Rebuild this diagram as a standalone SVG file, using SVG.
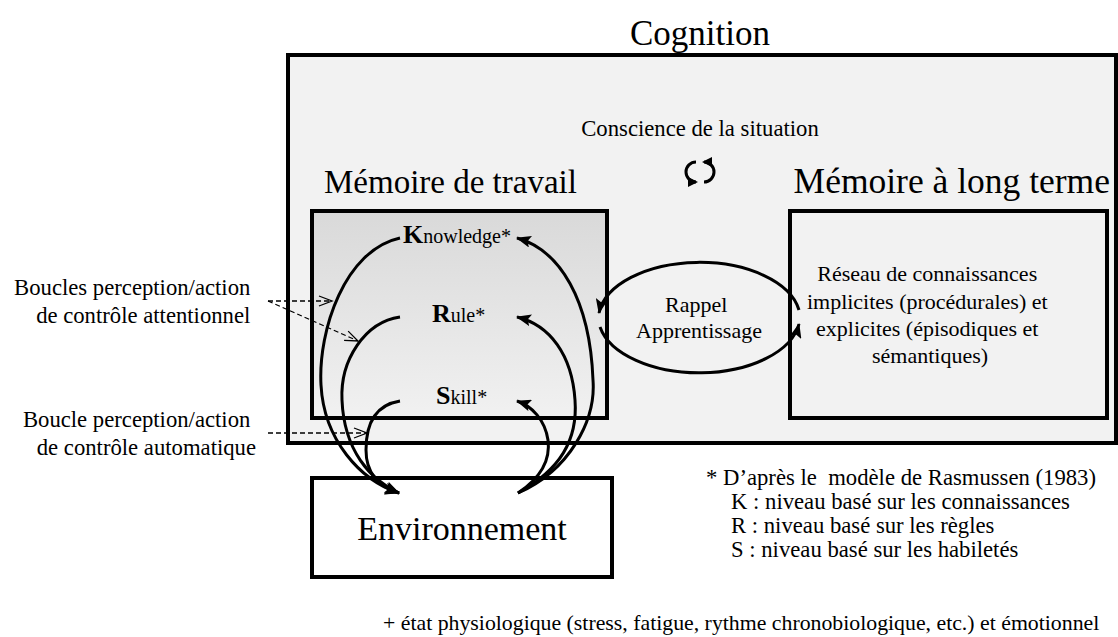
<svg xmlns="http://www.w3.org/2000/svg" width="1118" height="637" viewBox="0 0 1118 637">
<style>
text{font-family:"Liberation Serif","Times New Roman",serif;fill:#000}
.t34{font-size:34px}
.t22{font-size:22px}
.t23{font-size:22.7px}
.lvl{font-size:20px}
.big{font-size:26px;font-weight:bold}
.box{stroke:#000;stroke-width:4}
.cur{fill:none;stroke:#000;stroke-width:3}
.dash{fill:none;stroke:#000;stroke-width:1.3;stroke-dasharray:5 3}
</style>
<defs>
<linearGradient id="wmg" x1="0" y1="0" x2="0" y2="1">
<stop offset="0" stop-color="#d9d9d9"/>
<stop offset="1" stop-color="#f1f1f1"/>
</linearGradient>
<marker id="ah" markerWidth="16" markerHeight="12" refX="14" refY="6" orient="auto" markerUnits="userSpaceOnUse">
<path d="M0,0 L15,6 L0,12 L3,6 z" fill="#000"/>
</marker>
<marker id="ahs" markerWidth="10" markerHeight="10" refX="8" refY="5" orient="auto" markerUnits="userSpaceOnUse">
<path d="M0,0 L10,5 L0,10 z" fill="#000"/>
</marker>
<marker id="oh" markerWidth="16" markerHeight="12" refX="14" refY="6" orient="auto" markerUnits="userSpaceOnUse">
<path d="M1,1 L14,6 L1,11" fill="none" stroke="#000" stroke-width="1.3"/>
</marker>
</defs>
<rect width="1118" height="637" fill="#fff"/>

<g id="cognition">
<rect class="box" x="288" y="55" width="828" height="388" fill="#f2f2f2"/>
<text x="700" y="45" text-anchor="middle" style="font-size:35px">Cognition</text>
</g>

<g id="conscience">
<text class="t23" x="700" y="136" text-anchor="middle">Conscience de la situation</text>
<path d="M696 162 A10 10 0 0 0 696 182" fill="none" stroke="#000" stroke-width="3" marker-end="url(#ahs)"/>
<path d="M704 182 A10 10 0 0 0 704 162" fill="none" stroke="#000" stroke-width="3" marker-end="url(#ahs)"/>
</g>

<g id="memoire-travail">
<text x="324" y="193" style="font-size:33px">Mémoire de travail</text>
<rect class="box" x="312" y="211" width="295" height="207" fill="url(#wmg)"/>
<text x="403" y="243"><tspan class="big">K</tspan><tspan class="lvl">nowledge*</tspan></text>
<text x="432" y="322"><tspan class="big">R</tspan><tspan class="lvl">ule*</tspan></text>
<text x="436" y="404"><tspan class="big">S</tspan><tspan class="lvl">kill*</tspan></text>
</g>

<g id="memoire-long-terme">
<text x="1110" y="193" text-anchor="end" style="font-size:35.5px">Mémoire à long terme</text>
<rect class="box" x="790" y="211" width="317" height="207" fill="#f2f2f2"/>
<text class="t22" text-anchor="middle">
<tspan x="930" y="281">Réseau de connaissances</tspan>
<tspan x="930" y="309">implicites (procédurales) et</tspan>
<tspan x="930" y="336">explicites (épisodiques et</tspan>
<tspan x="930" y="363">sémantiques)</tspan>
</text>
</g>

<g id="environnement">
<rect class="box" x="312" y="478" width="300" height="99" fill="#fff"/>
<text class="t34" x="462" y="540" text-anchor="middle">Environnement</text>
</g>

<g id="rappel">
<text class="t22" text-anchor="middle">
<tspan x="699" y="312">Rappel</tspan>
<tspan x="699" y="338">Apprentissage</tspan>
</text>
</g>

<g id="labels">
<text class="t23" text-anchor="end">
<tspan x="256" y="295">Boucles perception/action</tspan>
<tspan x="256" y="323">de contrôle attentionnel</tspan>
<tspan x="256" y="427">Boucle perception/action</tspan>
<tspan x="256" y="455">de contrôle automatique</tspan>
</text>
</g>

<g id="footnote">
<text class="t23" xml:space="preserve"><tspan x="706" y="485">* D’après le  modèle de Rasmussen (1983)</tspan><tspan x="731" y="509">K : niveau basé sur les connaissances</tspan><tspan x="731" y="533">R : niveau basé sur les règles</tspan><tspan x="731" y="557">S : niveau basé sur les habiletés</tspan></text>
<text x="383" y="630" style="font-size:21.8px">+ état physiologique (stress, fatigue, rythme chronobiologique, etc.) et émotionnel</text>
</g>

<g id="connectors">
<path class="cur" d="M400 238 C345 250 318 330 321 385 C324 440 360 480 399 493" marker-end="url(#ah)"/>
<path class="cur" d="M518 493 C570 470 596 420 593 380 C590 300 560 250 517 238" marker-end="url(#ah)"/>
<path class="cur" d="M400 317 C365 322 340 360 342 400 C344 450 370 480 399 493" marker-end="url(#ah)"/>
<path class="cur" d="M518 493 C560 470 578 440 575 400 C572 355 550 325 517 317" marker-end="url(#ah)"/>
<path class="cur" d="M400 401 C375 405 366 425 366 450 C366 475 380 487 399 493" marker-end="url(#ah)"/>
<path class="cur" d="M518 493 C545 475 550 455 548 440 C545 420 532 406 517 401" marker-end="url(#ah)"/>
<path class="cur" d="M799 310 A101 57 0 0 0 599 313" marker-end="url(#ah)"/>
<path class="cur" d="M600 327 A101 57 0 0 0 799 324" marker-end="url(#ah)"/>
<path class="dash" d="M268 301 L332 301" marker-end="url(#oh)"/>
<path class="dash" d="M268 301 L358 341" marker-end="url(#oh)"/>
<path class="dash" d="M268 433 L367 433" marker-end="url(#oh)"/>
</g>
</svg>
